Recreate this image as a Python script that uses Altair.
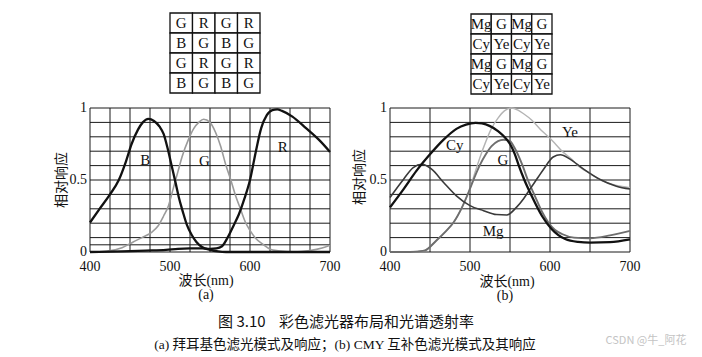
import altair as alt
import pandas as pd

# ---------------- data: panel (a) Bayer RGB ----------------
a_B_wl = [400, 412, 425, 436, 445, 452, 460, 466, 473, 480, 487, 492, 497, 502, 507, 511, 516, 521, 527, 533, 540, 550, 560, 570, 620, 700]
a_B_v = [0.205, 0.30, 0.40, 0.50, 0.63, 0.75, 0.85, 0.90, 0.924, 0.91, 0.87, 0.82, 0.72, 0.60, 0.48, 0.38, 0.28, 0.19, 0.12, 0.07, 0.035, 0.015, 0.004, 0.0, 0.0, 0.0]

a_G_wl = [400, 420, 440, 454, 465, 477, 485, 492, 498, 504, 510, 515, 523, 530, 536, 542, 550, 557, 563, 570, 576, 582, 588, 594, 600, 607, 617, 625, 635, 655, 675, 690, 700]
a_G_v = [0.0, 0.005, 0.03, 0.07, 0.10, 0.137, 0.18, 0.25, 0.32, 0.44, 0.56, 0.66, 0.78, 0.86, 0.90, 0.922, 0.90, 0.83, 0.74, 0.60, 0.50, 0.39, 0.30, 0.21, 0.15, 0.095, 0.05, 0.02, 0.008, 0.0, 0.01, 0.028, 0.047]

a_R_wl = [400, 440, 470, 495, 510, 525, 540, 550, 558, 565, 572, 580, 586, 593, 600, 607, 614, 621, 628, 634, 640, 653, 670, 686, 700]
a_R_v = [0.0, 0.005, 0.01, 0.015, 0.022, 0.025, 0.025, 0.022, 0.025, 0.04, 0.10, 0.19, 0.26, 0.37, 0.50, 0.69, 0.86, 0.95, 0.985, 0.99, 0.98, 0.94, 0.86, 0.78, 0.695]

# ---------------- data: panel (b) CMY ----------------
b_Cy_wl = [400, 417, 433, 450, 467, 483, 495, 507, 515, 525, 535, 542, 550, 556, 561, 568, 577, 590, 602, 619, 635, 650, 675, 700]
b_Cy_v = [0.31, 0.437, 0.563, 0.678, 0.78, 0.855, 0.885, 0.897, 0.893, 0.874, 0.84, 0.805, 0.75, 0.68, 0.60, 0.50, 0.39, 0.25, 0.16, 0.09, 0.07, 0.065, 0.068, 0.087]

b_G_wl = [400, 425, 443, 458, 470, 480, 490, 500, 505, 512, 520, 527, 535, 542, 550, 556, 565, 573, 581, 590, 598, 606, 615, 630, 650, 675, 700]
b_G_v = [0.0, 0.0, 0.01, 0.08, 0.145, 0.21, 0.31, 0.44, 0.51, 0.60, 0.68, 0.735, 0.77, 0.78, 0.77, 0.72, 0.61, 0.49, 0.39, 0.28, 0.205, 0.155, 0.125, 0.10, 0.095, 0.115, 0.147]

b_Ye_wl = [400, 425, 443, 458, 470, 480, 490, 500, 505, 512, 520, 527, 535, 543, 552, 560, 567, 577, 590, 600, 617, 627, 633, 650, 667, 683, 700]
b_Ye_v = [0.0, 0.0, 0.01, 0.08, 0.145, 0.21, 0.31, 0.44, 0.53, 0.65, 0.77, 0.86, 0.93, 0.98, 1.0, 0.985, 0.96, 0.917, 0.84, 0.79, 0.69, 0.645, 0.61, 0.545, 0.49, 0.462, 0.447]

b_Mg_wl = [400, 417, 429, 440, 452, 467, 483, 500, 517, 533, 546, 558, 567, 575, 584, 592, 604, 613, 625, 642, 662, 683, 700]
b_Mg_v = [0.379, 0.506, 0.586, 0.609, 0.575, 0.483, 0.39, 0.322, 0.287, 0.26, 0.257, 0.31, 0.37, 0.437, 0.51, 0.575, 0.66, 0.675, 0.645, 0.575, 0.505, 0.457, 0.437]

# curve labels (wavelength, response)
a_labels = ["B", "G", "R"]
a_label_wl = [469, 543, 641]
a_label_v = [0.64, 0.63, 0.73]
b_labels = ["Cy", "G", "Ye", "Mg"]
b_label_wl = [481, 541, 625, 529]
b_label_v = [0.745, 0.64, 0.834, 0.145]

# grids and ticks
a_grid_wl = list(range(400, 701, 25))
a_grid_v = [0, 0.05, 0.1, 0.2, 0.3, 0.4, 0.5, 0.6, 0.7, 0.8, 0.9, 1.0]
b_grid_wl = list(range(400, 701, 50))
b_grid_v = [0, 0.1, 0.2, 0.3, 0.4, 0.5, 0.6, 0.7, 0.8, 0.9, 1.0]
x_tick_vals = [400, 500, 600, 700]
x_tick_labels = ["400", "500", "600", "700"]
y_tick_vals = [0, 0.5, 1]
y_tick_labels = ["0", "0.5", "1"]

# filter mosaics
bayer = [["G", "R", "G", "R"], ["B", "G", "B", "G"], ["G", "R", "G", "R"], ["B", "G", "B", "G"]]
cmy = [["Mg", "G", "Mg", "G"], ["Cy", "Ye", "Cy", "Ye"], ["Mg", "G", "Mg", "G"], ["Cy", "Ye", "Cy", "Ye"]]

NB = "\u00a0"
caption1 = "图" + NB + "3.10" + NB * 4 + "彩色滤光器布局和光谱透射率"
caption2 = "(a) 拜耳基色滤光模式及响应；(b) CMY 互补色滤光模式及其响应"
watermark = "CSDN @牛_阿花"
y_title = "相对响应"
x_title = "波长(nm)"

SERIF = "Liberation Serif, Noto Sans CJK SC"
CJK = "Noto Sans CJK SC"

# ---------------- scales ----------------
Y_RANGE = [252, 108]
panels = {
    "a": dict(x_range=[90, 330], gwl=a_grid_wl, gv=a_grid_v),
    "b": dict(x_range=[390, 630], gwl=b_grid_wl, gv=b_grid_v),
}


def xs(p):
    return alt.Scale(domain=[400, 700], range=panels[p]["x_range"], nice=False, zero=False)


def ys():
    return alt.Scale(domain=[0, 1], range=Y_RANGE, nice=False, zero=False)


def curve(p, wl, v, color, width):
    df = pd.DataFrame({"wl": wl, "v": v})
    return alt.Chart(df).mark_line(color=color, strokeWidth=width, interpolate="monotone").encode(
        x=alt.X("wl:Q", scale=xs(p), axis=None),
        y=alt.Y("v:Q", scale=ys(), axis=None),
    )


def grid(p):
    gwl = panels[p]["gwl"]
    gv = panels[p]["gv"]
    vdf = pd.DataFrame({"wl": gwl, "lo": [0] * len(gwl), "hi": [1] * len(gwl)})
    hdf = pd.DataFrame({"v": gv, "lo": [400] * len(gv), "hi": [700] * len(gv)})
    vr = alt.Chart(vdf).mark_rule(color="#1a1a1a", strokeWidth=1).encode(
        x=alt.X("wl:Q", scale=xs(p), axis=None),
        y=alt.Y("lo:Q", scale=ys(), axis=None),
        y2="hi:Q",
    )
    hr = alt.Chart(hdf).mark_rule(color="#1a1a1a", strokeWidth=1).encode(
        x=alt.X("lo:Q", scale=xs(p), axis=None),
        x2="hi:Q",
        y=alt.Y("v:Q", scale=ys(), axis=None),
    )
    return [vr, hr]


def ticks(p, ylab_x, xlab_y):
    xdf = pd.DataFrame({"wl": x_tick_vals, "t": x_tick_labels})
    ydf = pd.DataFrame({"v": y_tick_vals, "t": y_tick_labels})
    xt = alt.Chart(xdf).mark_text(font=SERIF, fontSize=14, color="#111", baseline="middle").encode(
        x=alt.X("wl:Q", scale=xs(p), axis=None), y=alt.value(xlab_y), text="t:N")
    yt = alt.Chart(ydf).mark_text(font=SERIF, fontSize=14, color="#111", align="right", baseline="middle").encode(
        x=alt.value(ylab_x), y=alt.Y("v:Q", scale=ys(), axis=None), text="t:N")
    return [xt, yt]


def curve_labels(p, labels, wl, v):
    df = pd.DataFrame({"wl": wl, "v": v, "t": labels})
    return alt.Chart(df).mark_text(font=SERIF, fontSize=15, color="#111").encode(
        x=alt.X("wl:Q", scale=xs(p), axis=None), y=alt.Y("v:Q", scale=ys(), axis=None), text="t:N")


def mosaic(cells, xr, yr):
    rows = []
    for r, row in enumerate(cells):
        for c, t in enumerate(row):
            rows.append({"r": r, "c": c, "t": t})
    df = pd.DataFrame(rows)
    xsc = alt.Scale(range=xr, paddingInner=0, paddingOuter=0)
    ysc = alt.Scale(range=yr, paddingInner=0, paddingOuter=0)
    rect = alt.Chart(df).mark_rect(fill="white", stroke="#111", strokeWidth=1.3).encode(
        x=alt.X("c:O", scale=xsc, axis=None), y=alt.Y("r:O", scale=ysc, axis=None))
    txt = alt.Chart(df).mark_text(font=SERIF, fontSize=15, color="#111", baseline="middle").encode(
        x=alt.X("c:O", scale=xsc, axis=None), y=alt.Y("r:O", scale=ysc, axis=None), text="t:N")
    return [rect, txt]


def label(text, x, y, size, font=SERIF, color="#111", angle=0, align="center", weight="normal"):
    df = pd.DataFrame({"t": [text]})
    kw = dict(font=font, fontSize=size, color=color, align=align, baseline="middle", fontWeight=weight)
    if angle:
        kw["angle"] = angle
    return alt.Chart(df).mark_text(**kw).encode(x=alt.value(x), y=alt.value(y), text="t:N")


layers = []
# panel (a)
layers += grid("a")
layers.append(curve("a", a_G_wl, a_G_v, "#9b9b9b", 1.6))
layers.append(curve("a", a_B_wl, a_B_v, "#111111", 2.3))
layers.append(curve("a", a_R_wl, a_R_v, "#111111", 2.3))
layers.append(curve_labels("a", a_labels, a_label_wl, a_label_v))
layers += ticks("a", 87, 267)
# panel (b)
layers += grid("b")
layers.append(curve("b", b_Ye_wl, b_Ye_v, "#b4b4b4", 1.4))
layers.append(curve("b", b_G_wl, b_G_v, "#6e6e6e", 1.9))
layers.append(curve("b", b_Mg_wl, b_Mg_v, "#3a3a3a", 1.6))
layers.append(curve("b", b_Cy_wl, b_Cy_v, "#111111", 2.3))
layers.append(curve_labels("b", b_labels, b_label_wl, b_label_v))
layers += ticks("b", 387, 267)
# mosaics
layers += mosaic(bayer, [170, 260], [13, 93])
layers += mosaic(cmy, [471, 552], [14, 94])
# titles
layers.append(label(y_title, 62, 180, 14, font=CJK, angle=270))
layers.append(label(y_title, 360, 177, 14, font=CJK, angle=270))
layers.append(label(x_title, 206, 281, 14))
layers.append(label(x_title, 507, 282, 14))
layers.append(label("(a)", 206, 295, 14))
layers.append(label("(b)", 505, 296, 14))
layers.append(label(caption1, 346, 322, 15, font=CJK))
layers.append(label(caption2, 345, 345, 13.5, font=SERIF))
layers.append(label(watermark, 646, 341, 11, font=CJK, color="#c4c4c4"))

chart = alt.layer(*layers).resolve_scale(x="independent", y="independent").properties(
    width=702, height=357, autosize=alt.AutoSizeParams(type="none"), padding=0,
    background="white",
).configure_view(stroke=None)

chart.save("out.html", embed_options={"renderer": "svg", "actions": False})
